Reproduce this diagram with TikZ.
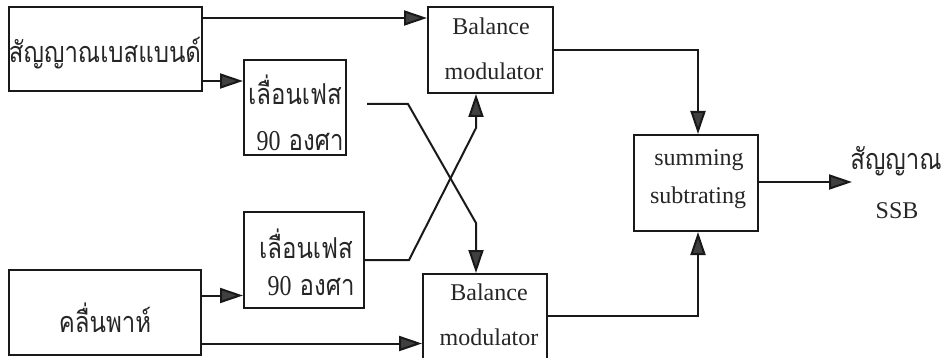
\documentclass[tikz,border=0pt]{standalone}
\usepackage{fontspec}
\setmainfont{Liberation Serif}
\newfontfamily\thaifont[Script=Thai]{Loma}
\newfontfamily\latfont{Liberation Serif}
\usetikzlibrary{arrows.meta}
\tikzset{
  blk/.style={draw=black!90, line width=2pt, inner sep=0pt, fill=none},
  lat/.style={anchor=base, inner sep=0pt, font=\fontsize{24}{24}\selectfont, text=black!85},
  thai/.style={anchor=base, inner sep=0pt, yscale=1.2, transform shape,
    font=\thaifont\fontsize{24}{24}\selectfont, text=black!85},
  conn/.style={draw=black!90, line width=2pt,
    -{Triangle[length=23pt,width=15pt,fill=black!75]}},
}
\begin{document}
\begin{tikzpicture}[x=1pt,y=-1pt]
  \useasboundingbox (0,0) rectangle (941,358);
  \clip (0,0) rectangle (941,358);
  \fill[white] (0,0) rectangle (941,358);

  % blocks
  \node[blk, minimum width=193pt, minimum height=84pt] (base) at (105.5,49) {};
  \node[blk, minimum width=102pt, minimum height=95pt] (ph1) at (295,107.5) {};
  \node[blk, minimum width=125pt, minimum height=86pt] (bm1) at (490.5,50) {};
  \node[blk, minimum width=120pt, minimum height=96pt] (ph2) at (304,260) {};
  \node[blk, minimum width=192pt, minimum height=85pt] (car) at (105,312.5) {};
  \node[blk, minimum width=124pt, minimum height=90pt] (bm2) at (485,319) {};
  \node[blk, minimum width=124pt, minimum height=96pt] (sum) at (696,183) {};

  % block texts
  \node[thai] (base-t) at (105,63) {สัญญาณเบสแบนด์};
  \node[thai] (ph1-a) at (295,105) {เลื่อนเฟส};
  \node[thai] (ph1-b) at (300,151) {{\latfont 90} องศา};
  \node[thai] (ph2-a) at (306,258) {เลื่อนเฟส};
  \node[thai] (ph2-b) at (311,295) {{\latfont 90} องศา};
  \node[thai] (car-t) at (105,332) {คลื่นพาห์};
  \node[lat] (bm1-a) at (491,35) {Balance};
  \node[lat] (bm1-b) at (494,80) {modulator};
  \node[lat] (bm2-a) at (489,300) {Balance};
  \node[lat] (bm2-b) at (489,345) {modulator};
  \node[lat] (sum-a) at (699,166) {summing};
  \node[lat] (sum-b) at (698,203) {subtrating};
  \node[thai] (out-a) at (896,170) {สัญญาณ};
  \node[lat] (out-b) at (897,218) {SSB};

  % helper points
  \coordinate (p1o) at (367,104);
  \coordinate (x1) at (476,223);
  \coordinate (x2) at (476,128);
  \coordinate (out) at (852,182);

  % connectors
  \draw[conn] ([yshift=-12pt]base.north east) -- ([yshift=-12pt]base.north east -| bm1.west);
  \draw[conn] ([yshift=11pt]base.south east) -- ([yshift=11pt]base.south east -| ph1.west);
  \draw[conn] (p1o) -- ++(41,0) -- (x1) -- (x1 |- bm2.north);
  \draw[conn] (ph2.east) -- ++(44,0) -- (x2) -- (x2 |- bm1.south);
  \draw[conn] ([yshift=17pt]car.east) -- ([yshift=17pt]car.east -| ph2.west);
  \draw[conn] ([yshift=-31pt]car.east) -- ([yshift=-31pt]car.east -| bm2.west);
  \draw[conn] (bm1.east) -| ([xshift=2pt]sum.north);
  \draw[conn] (bm2.north east |- 0,316) -| ([xshift=2pt]sum.south);
  \draw[conn] (sum.east |- out) -- (out);
\end{tikzpicture}
\end{document}
